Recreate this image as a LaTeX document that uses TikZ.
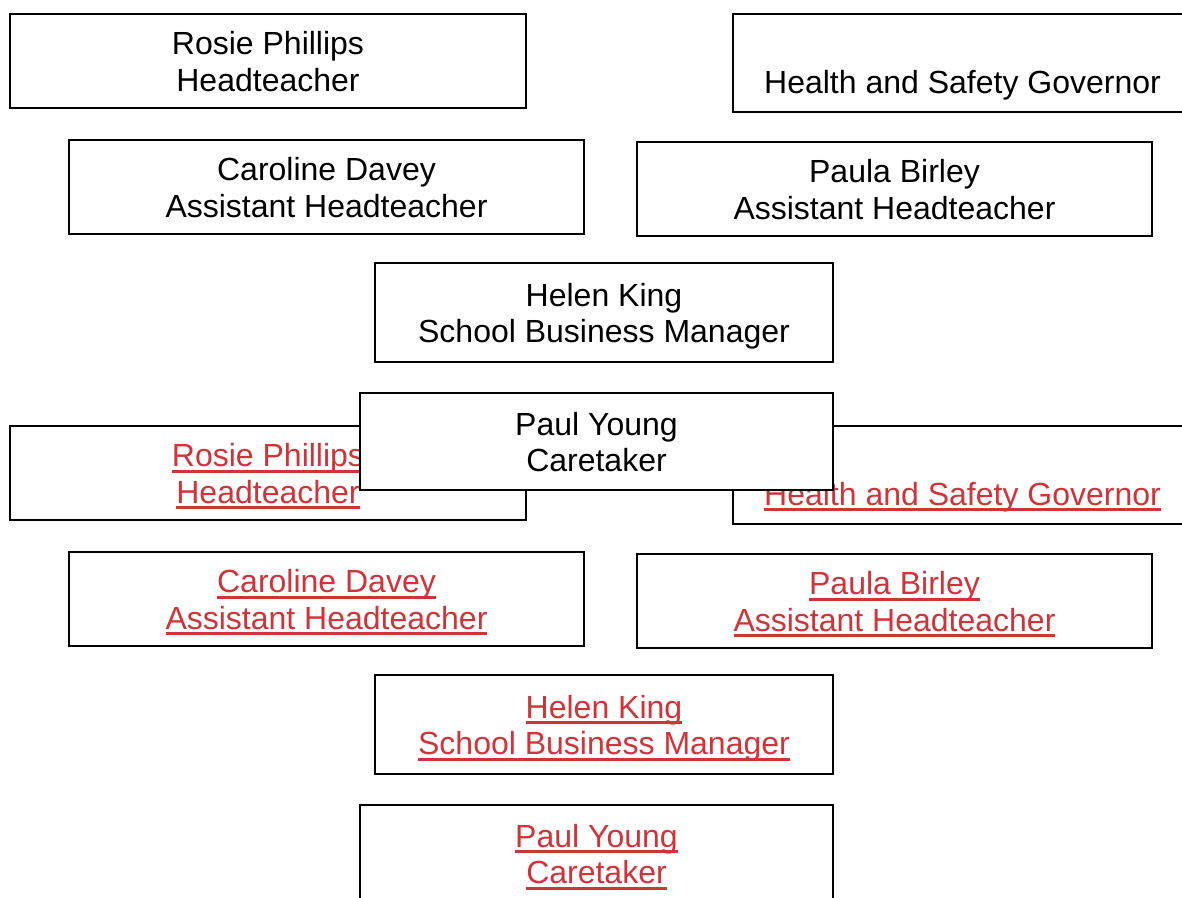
\documentclass[tikz,border=0pt]{standalone}
\usepackage{fontspec}
\setmainfont{Liberation Sans}
\definecolor{linkred}{RGB}{209,52,56}
\newsavebox\linkbox
\newcommand\linktext[1]{%
  \sbox\linkbox{#1}%
  \rlap{\usebox\linkbox}\rule[-6pt]{\wd\linkbox}{3pt}%
}
\newcommand\lineup{\rule{0pt}{31pt}} % first line strut
\newcommand\linedown{\rule[-7.2pt]{0pt}{7.2pt}} % last line strut
\tikzset{%
  staff box/.style={draw,fill=white,line width=1.8pt,rectangle,
    anchor=north west,inner sep=0pt,outer sep=0pt,align=center,
    font=\fontsize{32}{36.8}\selectfont},
  link box/.style={staff box,text=linkred},
  box size/.style 2 args={minimum width=#1,minimum height=#2}
}
\begin{document}
\begin{tikzpicture}[x=1pt,y=-1pt]

%page
\clip (0,0) rectangle (1182,897);
\def\dy{412} % shift of the linked copy

%linked copy
\node[link box,box size={516}{94}] (rosie link) at (10,14+\dy)
  {\lineup\linktext{Rosie Phillips}\\\linktext{Headteacher}\linedown};
\node[link box,box size={459}{98}] (governor link) at (733,14+\dy)
  {\lineup\\\linktext{Health and Safety Governor}\linedown};
\node[link box,box size={515}{94}] (caroline link) at (69,140+\dy)
  {\lineup\linktext{Caroline Davey}\\\linktext{Assistant Headteacher}\linedown};
\node[link box,box size={515}{94}] (paula link) at (637,142+\dy)
  {\lineup\linktext{Paula Birley}\\\linktext{Assistant Headteacher}\linedown};
\node[link box,box size={458}{99}] (helen link) at (375,263+\dy)
  {\lineup\linktext{Helen King}\\\linktext{School Business Manager}\linedown};
\node[link box,box size={473}{97}] (paul link) at (360,393+\dy)
  {\lineup\linktext{Paul Young}\\\linktext{Caretaker}\linedown};

%chart
\node[staff box,box size={516}{94}] (rosie) at (10,14)
  {\lineup Rosie Phillips\\Headteacher\linedown};
\node[staff box,box size={459}{98}] (governor) at (733,14)
  {\lineup\\Health and Safety Governor\linedown};
\node[staff box,box size={515}{94}] (caroline) at (69,140)
  {\lineup Caroline Davey\\Assistant Headteacher\linedown};
\node[staff box,box size={515}{94}] (paula) at (637,142)
  {\lineup Paula Birley\\Assistant Headteacher\linedown};
\node[staff box,box size={458}{99}] (helen) at (375,263)
  {\lineup Helen King\\School Business Manager\linedown};
\node[staff box,box size={473}{97}] (paul) at (360,393)
  {\lineup Paul Young\\Caretaker\linedown};

\end{tikzpicture}
\end{document}
